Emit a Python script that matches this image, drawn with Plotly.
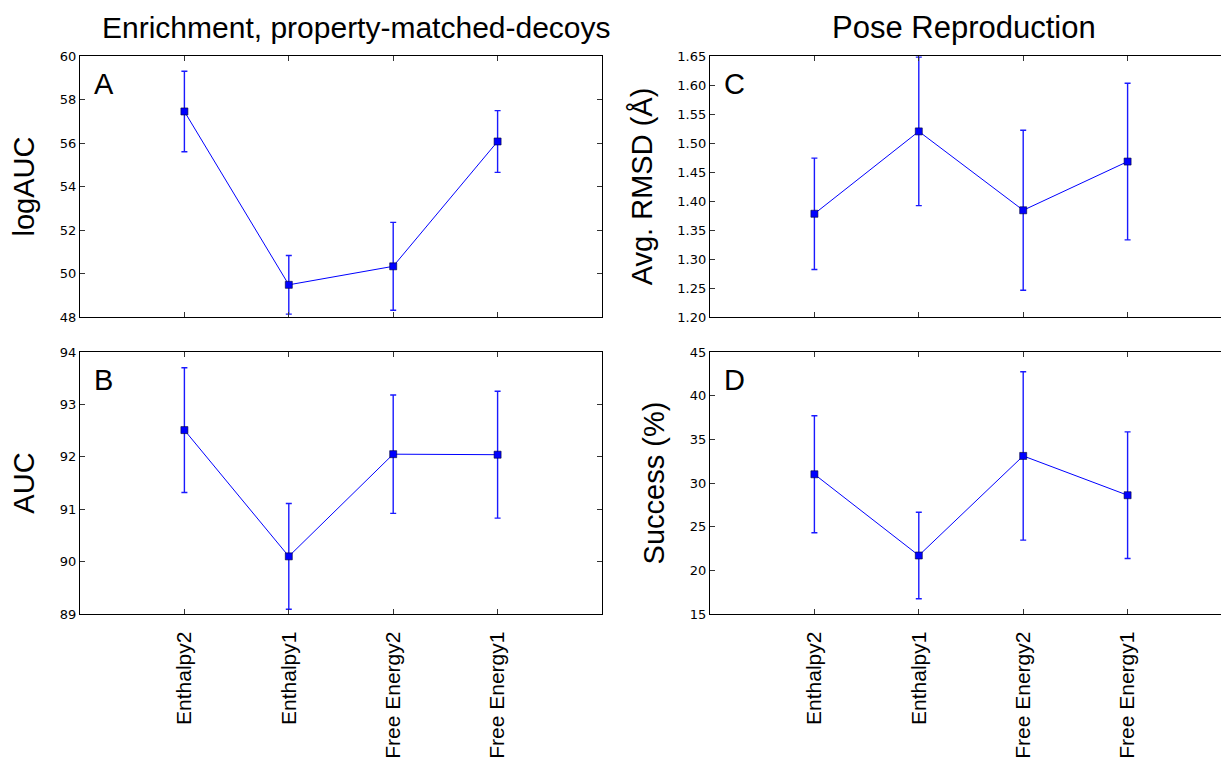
import plotly.graph_objects as go

# Methods compared (x categories)
methods = ["Enthalpy2", "Enthalpy1", "Free Energy2", "Free Energy1"]

# Enrichment against property-matched decoys
log_auc = [57.45, 49.48, 50.33, 56.07]
log_auc_err = [1.85, 1.35, 2.02, 1.42]
auc = [92.51, 90.10, 92.05, 92.04]
auc_err = [1.19, 1.01, 1.13, 1.21]

# Pose reproduction
rmsd = [1.378, 1.520, 1.384, 1.468]
rmsd_err = [0.096, 0.128, 0.138, 0.135]
success = [31.0, 21.7, 33.1, 28.6]
success_err = [6.7, 4.95, 9.64, 7.25]

W, H = 1221, 761
UNIT = 104.4  # pixels per category step

def px_x(a, b):
    return [a / W, b / W]

def px_y(top, bottom):
    return [1 - bottom / H, 1 - top / H]

xpos = [1, 2, 3, 4]

panels = [
    # (data, err, xdomain, ydomain, yrange, dtick, fmt, ytitle, letter, show x labels, right spine)
    (log_auc, log_auc_err, px_x(80, 602), px_y(56, 317), [48, 60], 2, "d", "logAUC", "A", False, True),
    (auc, auc_err, px_x(80, 602), px_y(352, 614), [89, 94], 1, "d", "AUC", "B", True, True),
    (rmsd, rmsd_err, px_x(710, W), px_y(56, 317), [1.20, 1.65], 0.05, ".2f", "Avg. RMSD (Å)", "C", False, False),
    (success, success_err, px_x(710, W), px_y(352, 614), [15, 45], 5, "d", "Success (%)", "D", True, False),
]

fig = go.Figure()
tick_font = dict(family="DejaVu Sans", size=13, color="black")
label_font = "Liberation Sans, Arial, sans-serif"

for i, (vals, errs, xd, yd, yr, dt, fmt, ytitle, letter, showx, rspine) in enumerate(panels, start=1):
    sfx = "" if i == 1 else str(i)
    fig.add_trace(go.Scatter(
        x=xpos, y=vals,
        mode="lines+markers",
        line=dict(color="#0000ff", width=1),
        marker=dict(symbol="square", size=7, color="#0000ff",
                    line=dict(color="#000033", width=0.6)),
        error_y=dict(type="data", array=errs, visible=True,
                     color="#1a1aff", thickness=1.4, width=3),
        xaxis="x" + sfx, yaxis="y" + sfx,
        showlegend=False,
    ))
    xr = [0, 5] if rspine else [0, (xd[1] - xd[0]) * W / UNIT]
    fig.layout["xaxis" + sfx] = dict(
        domain=xd, range=xr, anchor="y" + sfx, automargin=False,
        tickmode="array", tickvals=xpos,
        ticktext=methods if showx else [""] * 4,
        showticklabels=showx, tickangle=-90,
        tickfont=dict(family=label_font, size=21, color="black"),
        ticklabelstandoff=8,
        ticks="inside", ticklen=5, tickcolor="#333",
        showline=True, linecolor="black", linewidth=1.3,
        mirror="allticks", showgrid=False, zeroline=False,
    )
    fig.layout["yaxis" + sfx] = dict(
        domain=yd, range=yr, anchor="x" + sfx, automargin=False,
        dtick=dt, tick0=yr[0], tickformat=fmt,
        tickfont=tick_font,
        ticks="inside", ticklen=5, tickcolor="#333",
        showline=True, linecolor="black", linewidth=1.3,
        mirror="allticks" if rspine else False,
        showgrid=False, zeroline=False,
        title=dict(text=ytitle, font=dict(family=label_font, size=29, color="black"),
                   standoff=16),
    )
    # panel letter in the upper-left corner
    fig.add_annotation(
        xref="x" + sfx + " domain", yref="y" + sfx + " domain",
        x=0, y=1, xshift=12, yshift=-10, xanchor="left", yanchor="top",
        text=letter, showarrow=False,
        font=dict(family=label_font, size=29, color="black"),
    )

# column headings
fig.add_annotation(xref="paper", yref="paper", x=356 / W, y=1 - 28 / H,
                   text="Enrichment, property-matched-decoys", showarrow=False,
                   xanchor="center", yanchor="middle",
                   font=dict(family=label_font, size=30, color="black"))
fig.add_annotation(xref="paper", yref="paper", x=964 / W, y=1 - 28 / H,
                   text="Pose Reproduction", showarrow=False,
                   xanchor="center", yanchor="middle",
                   font=dict(family=label_font, size=31, color="black"))

fig.update_layout(
    width=W, height=H,
    margin=dict(l=0, r=0, t=0, b=0),
    paper_bgcolor="white", plot_bgcolor="white",
)

fig.write_html("out.html")
